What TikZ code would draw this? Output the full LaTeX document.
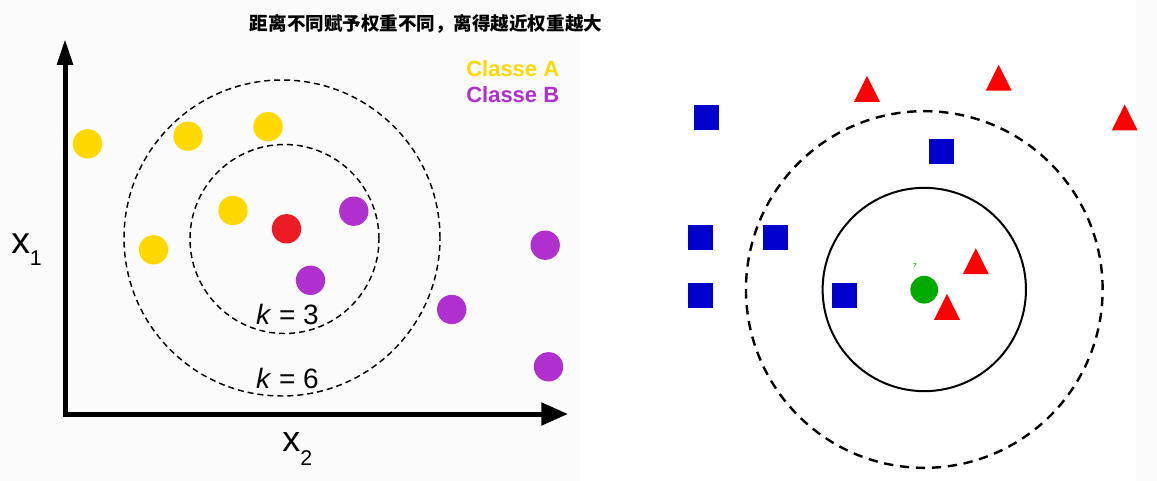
\documentclass[tikz,border=0pt]{standalone}
\usepackage{fontspec}
\setmainfont{Liberation Sans}
\newfontfamily\cjk{Noto Sans CJK SC}
\usetikzlibrary{arrows.meta,shapes.geometric}
\definecolor{ptyellow}{HTML}{FFD800}
\definecolor{ptpurple}{HTML}{B02FCF}
\definecolor{ptred}{HTML}{ED1C24}
\definecolor{sqblue}{HTML}{0000CC}
\definecolor{trired}{HTML}{FF0000}
\definecolor{qgreen}{HTML}{00AA00}
\definecolor{panelgray}{HTML}{FBFBFB}
\tikzset{
  dot/.style={circle,inner sep=0pt,minimum size=22pt},
  adot/.style={dot,fill=ptyellow},
  bdot/.style={dot,fill=ptpurple},
  qdot/.style={dot,fill=ptred},
  sq/.style={rectangle,inner sep=0pt,minimum size=18.75pt,fill=sqblue},
  trifill/.style={fill=trired},
  ring/.style={draw=black,line width=1.1pt,dash pattern=on 4.5pt off 3pt},
  bigring/.style={draw=black,line width=1.8pt,dash pattern=on 7pt off 5pt},
  lbl/.style={inner sep=0pt,font=\fontsize{21}{21}\selectfont},
}
\newcommand{\tridraw}[1]{\fill[trifill] (#1) ++(0,-13) -- ++(13,26) -- ++(-26,0) -- cycle;}
\begin{document}
\begin{tikzpicture}[x=0.75pt,y=-0.75pt]
\useasboundingbox (0,0) rectangle (1157,481);
\fill[panelgray] (0,0) rectangle (580,481);
\fill[panelgray] (1136,0) rectangle (1157,481);
% title
\node[inner sep=0pt,font=\cjk\bfseries\fontsize{13.9}{14}\selectfont] (title) at (426,24) {距离不同赋予权重不同，离得越近权重越大};
% legend
\node[anchor=west,inner sep=0pt,text=ptyellow,font=\bfseries\fontsize{16.5}{17}\selectfont] (legA) at (466,69) {Classe A};
\node[anchor=west,inner sep=0pt,text=ptpurple,font=\bfseries\fontsize{16.5}{17}\selectfont] (legB) at (466,95) {Classe B};
% axes
\coordinate (ytip) at (65,39);
\coordinate (origin) at (65,414);
\coordinate (xtip) at (568,414);
\draw[line width=3.75pt,line join=miter,
  arrows={Triangle[length=19.5pt,width=11.5pt]-Triangle[length=20pt,width=16.5pt]}]
  (ytip) -- (origin) -- (xtip);
\node[anchor=base west,inner sep=0pt,font=\fontsize{28}{28}\selectfont] (xone) at (11,253)
  {x\raisebox{-9.5pt}{\fontsize{16}{16}\selectfont 1}};
\node[anchor=base west,inner sep=0pt,font=\fontsize{27}{27}\selectfont] (xtwo) at (282,451.7)
  {x\raisebox{-10pt}{\fontsize{16}{16}\selectfont 2}};
% rings left (radius 94.5px and 158px)
\node[ring,circle,inner sep=0pt,minimum size=141.75pt] (kthree) at (284.5,239) {};
\node[ring,circle,inner sep=0pt,minimum size=237pt] (ksix) at (282,238) {};
% points left
\node[adot] (a1) at (87.5,143.8) {};
\node[adot] (a2) at (188,136.2) {};
\node[adot] (a3) at (268,126.7) {};
\node[adot] (a4) at (233,210.5) {};
\node[adot] (a5) at (153.5,249.8) {};
\node[bdot] (b1) at (353.8,211.2) {};
\node[bdot] (b2) at (310.5,280.3) {};
\node[bdot] (b3) at (451.7,309.5) {};
\node[bdot] (b4) at (545.2,245.2) {};
\node[bdot] (b5) at (548.5,366.8) {};
\node[qdot] (q) at (286.5,228.8) {};
\node[lbl] (k3) at (287.5,314) {\textit{k} = 3};
\node[lbl] (k6) at (287.5,378) {\textit{k} = 6};
% right panel
\node[circle,draw=black,line width=1.5pt,inner sep=0pt,minimum size=152.5pt] (inner) at (924.3,289.5) {};
\node[circle,bigring,inner sep=0pt,minimum size=267.5pt] (outer) at (924.3,289.5) {};
\node[sq] (s1) at (706.2,117.8) {};
\node[sq] (s2) at (941.2,152) {};
\node[sq] (s3) at (700.5,238) {};
\node[sq] (s4) at (775.2,238) {};
\node[sq] (s5) at (700.5,295.5) {};
\node[sq] (s6) at (844,295.5) {};
\coordinate (t1) at (867,88.8);
\coordinate (t2) at (998.7,77.7);
\coordinate (t3) at (1124.7,117.5);
\coordinate (t4) at (975.8,261.2);
\coordinate (t5) at (947,306.8);
\tridraw{t1}\tridraw{t2}\tridraw{t3}\tridraw{t4}\tridraw{t5}
\node[circle,fill=qgreen,inner sep=0pt,minimum size=20.8pt] (g) at (924.2,289.7) {};
\node[inner sep=0pt,text=qgreen,font=\bfseries\fontsize{4.5}{5}\selectfont] (qm) at (915,265) {?};
\end{tikzpicture}
\end{document}
